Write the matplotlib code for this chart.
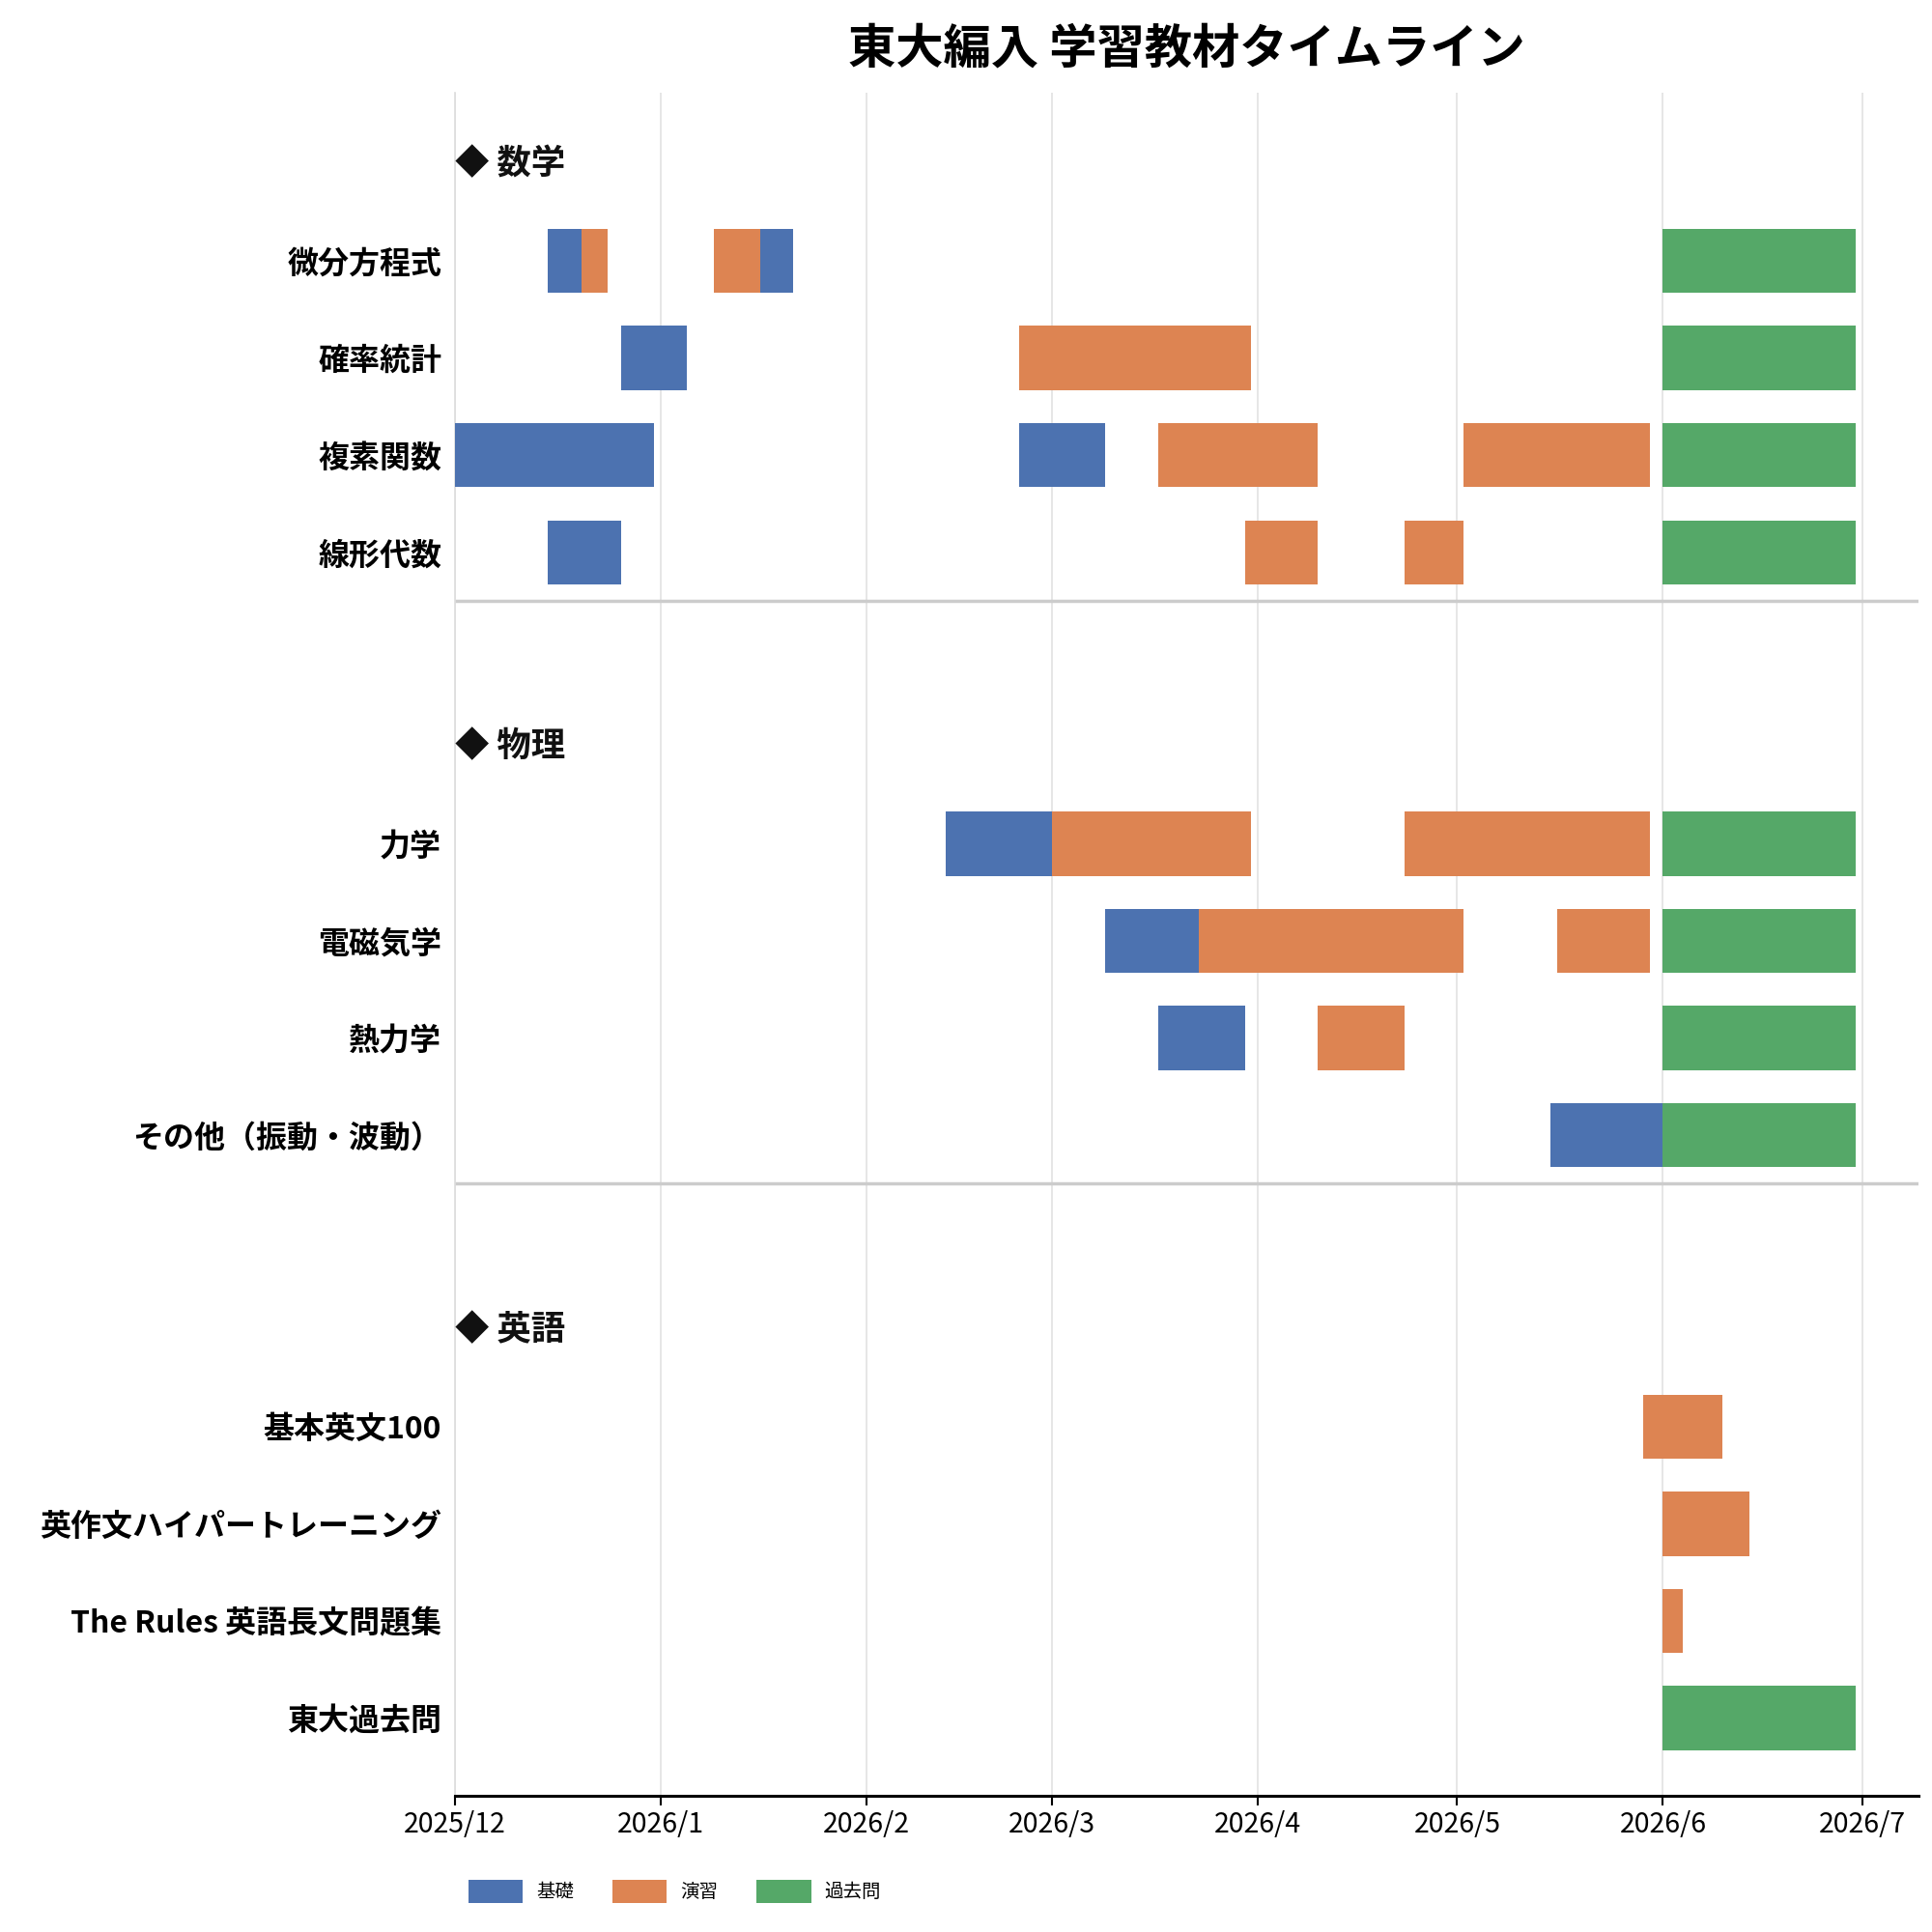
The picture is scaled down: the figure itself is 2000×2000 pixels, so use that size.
import matplotlib
matplotlib.use("Agg")
import matplotlib.pyplot as plt
import matplotlib.dates as mdates
from matplotlib.patches import Patch
from datetime import datetime

plt.rcParams['font.family'] = ['Noto Sans CJK JP', 'DejaVu Sans']

# 科目ごとの教材
sections = ["数学", "物理", "英語"]
section_items = [
    ["微分方程式", "確率統計", "複素関数", "線形代数"],
    ["力学", "電磁気学", "熱力学", "その他（振動・波動）"],
    ["基本英文100", "英作文ハイパートレーニング", "The Rules 英語長文問題集", "東大過去問"],
]

# (教材, 開始, 終了)
kiso = [
    ("微分方程式", "2025-12-15", "2025-12-20"),
    ("微分方程式", "2026-01-16", "2026-01-21"),
    ("確率統計", "2025-12-26", "2026-01-05"),
    ("複素関数", "2025-12-01", "2025-12-31"),
    ("複素関数", "2026-02-24", "2026-03-09"),
    ("線形代数", "2025-12-15", "2025-12-26"),
    ("力学", "2026-02-13", "2026-03-01"),
    ("電磁気学", "2026-03-09", "2026-03-23"),
    ("熱力学", "2026-03-17", "2026-03-30"),
    ("その他（振動・波動）", "2026-05-15", "2026-06-01"),
]
enshu = [
    ("微分方程式", "2025-12-20", "2025-12-24"),
    ("微分方程式", "2026-01-09", "2026-01-16"),
    ("確率統計", "2026-02-24", "2026-03-31"),
    ("複素関数", "2026-03-17", "2026-04-10"),
    ("複素関数", "2026-05-02", "2026-05-30"),
    ("線形代数", "2026-03-30", "2026-04-10"),
    ("線形代数", "2026-04-23", "2026-05-02"),
    ("力学", "2026-03-01", "2026-03-31"),
    ("力学", "2026-04-23", "2026-05-30"),
    ("電磁気学", "2026-03-23", "2026-05-02"),
    ("電磁気学", "2026-05-16", "2026-05-30"),
    ("熱力学", "2026-04-10", "2026-04-23"),
    ("基本英文100", "2026-05-29", "2026-06-10"),
    ("英作文ハイパートレーニング", "2026-06-01", "2026-06-14"),
    ("The Rules 英語長文問題集", "2026-06-01", "2026-06-04"),
]
kakomon = [
    ("微分方程式", "2026-06-01", "2026-06-30"),
    ("確率統計", "2026-06-01", "2026-06-30"),
    ("複素関数", "2026-06-01", "2026-06-30"),
    ("線形代数", "2026-06-01", "2026-06-30"),
    ("力学", "2026-06-01", "2026-06-30"),
    ("電磁気学", "2026-06-01", "2026-06-30"),
    ("熱力学", "2026-06-01", "2026-06-30"),
    ("その他（振動・波動）", "2026-06-01", "2026-06-30"),
    ("東大過去問", "2026-06-01", "2026-06-30"),
]

categories = ["基礎", "演習", "過去問"]
colors = ["#4C72B0", "#DD8452", "#55A868"]

month_ticks = ["2025-12-01", "2026-01-01", "2026-02-01", "2026-03-01",
               "2026-04-01", "2026-05-01", "2026-06-01", "2026-07-01"]
month_labels = ["2025/12", "2026/1", "2026/2", "2026/3",
                "2026/4", "2026/5", "2026/6", "2026/7"]


def d(s):
    return mdates.date2num(datetime.strptime(s, "%Y-%m-%d"))


# 行の位置 (見出し + 4行 + 空白)
row_pos = {}
header_pos = []
for i, items in enumerate(section_items):
    base = i * 6
    header_pos.append(base)
    for j, name in enumerate(items):
        row_pos[name] = base + j + 1

fig = plt.figure(figsize=(20, 20), dpi=100)
ax = fig.add_axes([0.2355, 0.0705, 0.7575, 0.8815])

for segs, color in zip([kiso, enshu, kakomon], colors):
    for name, s, e in segs:
        ax.barh(row_pos[name], d(e) - d(s), left=d(s), height=0.66,
                color=color, edgecolor="none", zorder=3)

x0 = d("2025-12-01")
ax.set_xlim(x0, d("2026-07-09") + 0.5)
ax.set_ylim(16.8, -0.73)

for h, title in zip(header_pos, sections):
    ax.text(x0, h, "◆ " + title, ha="left", va="center", fontsize=25.5,
            fontweight="bold", color="#111111", zorder=4)

for sep in [4.5, 10.5]:
    ax.axhline(sep, color="#cccccc", lw=2.5, zorder=2)

ax.set_yticks([row_pos[n] for items in section_items for n in items])
ax.set_yticklabels([n for items in section_items for n in items],
                   fontsize=23, fontweight="bold")
ax.tick_params(axis="y", length=0, pad=10)

ax.set_xticks([d(t) for t in month_ticks])
ax.set_xticklabels(month_labels, fontsize=20.5)
ax.tick_params(axis="x", length=7, width=1.5, pad=4)
ax.grid(axis="x", color="#e2e2e2", lw=1.2, zorder=0)
ax.set_axisbelow(True)

ax.spines["top"].set_visible(False)
ax.spines["right"].set_visible(False)
ax.spines["left"].set_color("#dddddd")
ax.spines["left"].set_linewidth(1.2)
ax.spines["bottom"].set_linewidth(2.2)

ax.set_title("東大編入 学習教材タイムライン", fontsize=35.5, fontweight="bold", pad=22)

handles = [Patch(facecolor=c, edgecolor="none", label=l) for c, l in zip(colors, categories)]
ax.legend(handles=handles, loc="center left", bbox_to_anchor=(0.009, -0.056),
          ncol=3, frameon=False, fontsize=14, handlelength=2.9, handleheight=1.55,
          handletextpad=0.72, columnspacing=2.05, borderpad=0, borderaxespad=0)

plt.savefig("out.png", dpi=100)
